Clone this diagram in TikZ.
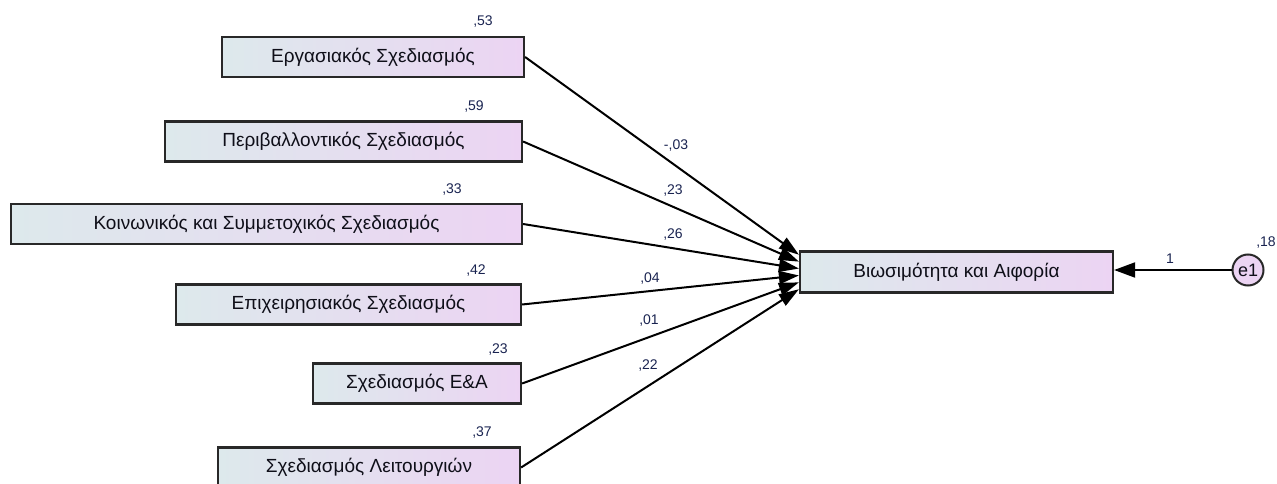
\documentclass[tikz,border=0pt]{standalone}
\usepackage{fontspec}
\setmainfont{Liberation Sans}
\usetikzlibrary{arrows.meta,calc}
\definecolor{boxL}{RGB}{221,233,236}
\definecolor{boxR}{RGB}{236,212,243}
\definecolor{edgecol}{RGB}{40,40,40}
\definecolor{numcol}{RGB}{25,35,80}
\definecolor{txtcol}{RGB}{15,15,25}
\tikzset{
  varbox/.style={draw=edgecol, line width=2.2pt, left color=boxL, right color=boxR,
    minimum height=40pt, inner sep=0pt, text=txtcol, font=\fontsize{19}{22}\selectfont},
  errnode/.style={circle, draw=edgecol, line width=2pt, fill=boxR, minimum size=31pt,
    inner sep=0pt, text=txtcol, font=\fontsize{18}{20}\selectfont},
  numlab/.style={text=numcol, font=\fontsize{14}{16}\selectfont, inner sep=0pt},
  path/.style={draw=black, line width=2pt, -{Triangle[length=20pt,width=13pt]}},
}
\begin{document}
\begin{tikzpicture}[x=1pt,y=-1pt]
\useasboundingbox (0,0) rectangle (1277,484);
% source boxes
\node[varbox, minimum width=302pt] (b1) at (373,57) {Εργασιακός Σχεδιασμός};
\node[varbox, minimum width=357pt] (b2) at (343.5,141.5) {Περιβαλλοντικός Σχεδιασμός};
\node[varbox, minimum width=511pt] (b3) at (266.5,224) {Κοινωνικός και Συμμετοχικός Σχεδιασμός};
\node[varbox, minimum width=345pt] (b4) at (348.5,304.5) {Επιχειρησιακός Σχεδιασμός};
\node[varbox, minimum width=208pt] (b5) at (417,383.5) {Σχεδιασμός Ε\&Α};
\node[varbox, minimum width=302pt] (b6) at (369,467.5) {Σχεδιασμός Λειτουργιών};
% target
\node[varbox, minimum width=313pt, minimum height=41pt] (t) at (956.5,272) {Βιωσιμότητα και Αιφορία};
% error
\node[errnode] (e1) at (1248,270) {e1};
% entry points on target
\coordinate (p1) at ($(t.north west)!0.10!(t.south west)$);
\coordinate (p2) at ($(t.north west)!0.26!(t.south west)$);
\coordinate (p3) at ($(t.north west)!0.42!(t.south west)$);
\coordinate (p4) at ($(t.north west)!0.58!(t.south west)$);
\coordinate (p5) at ($(t.north west)!0.74!(t.south west)$);
\coordinate (p6) at ($(t.north west)!0.90!(t.south west)$);
\draw[path] (b1.east) -- (p1);
\draw[path] (b2.east) -- (p2);
\draw[path] (b3.east) -- (p3);
\draw[path] (b4.east) -- (p4);
\draw[path] (b5.east) -- (p5);
\draw[path] (b6.east) -- (p6);
\draw[draw=black, line width=2pt, -{Triangle[length=21pt,width=15pt]}] (e1.west) -- (e1.west -| t.east);
% variance labels
\node[numlab] (r1) at (483,22) {,53};
\node[numlab] (r2) at (474,107) {,59};
\node[numlab] (r3) at (452,190) {,33};
\node[numlab] (r4) at (476,271) {,42};
\node[numlab] (r5) at (498,350) {,23};
\node[numlab] (r6) at (482,433) {,37};
\node[numlab] (re) at (1266,243) {,18};
% path coefficients
\node[numlab] (c1) at (676,146) {-,03};
\node[numlab] (c2) at (673,191) {,23};
\node[numlab] (c3) at (673,235) {,26};
\node[numlab] (c4) at (650,279) {,04};
\node[numlab] (c5) at (649,321) {,01};
\node[numlab] (c6) at (648,366) {,22};
\node[numlab] (ce) at (1170,259) {1};
\end{tikzpicture}
\end{document}
